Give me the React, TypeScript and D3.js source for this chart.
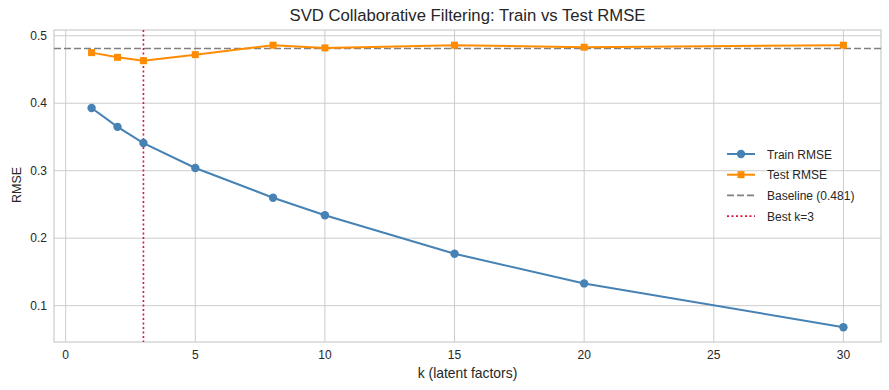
import * as d3 from 'd3';
import React, { useRef, useEffect } from 'react';

const kValues = [1, 2, 3, 5, 8, 10, 15, 20, 30];
const trainRmse = [0.393, 0.365, 0.341, 0.304, 0.260, 0.234, 0.177, 0.133, 0.068];
const testRmse = [0.475, 0.468, 0.463, 0.472, 0.486, 0.482, 0.486, 0.483, 0.486];
const baseline = 0.481;
const bestK = 3;
const xTicks = [0, 5, 10, 15, 20, 25, 30];
const yTicks = [0.1, 0.2, 0.3, 0.4, 0.5];
const legendLabels = ['Train RMSE', 'Test RMSE', 'Baseline (0.481)', 'Best k=3'];

function RmseChart({ width, height }: { width: number; height: number }) {
    const ref = useRef<SVGSVGElement>(null);

    useEffect(() => {
        const svg = d3.select(ref.current);
        svg.selectAll('*').remove();
        draw(svg);
    }, []);

    const draw = (svg: any) => {
        const margin = { top: 30, right: 8, bottom: 48, left: 54 };
        const w = width - margin.left - margin.right;
        const h = height - margin.top - margin.bottom;
        const font = 'Liberation Sans, Arial, sans-serif';
        const textColor = '#262626';

        const x = d3.scaleLinear().domain([-0.45, 31.45]).range([0, w]);
        const y = d3.scaleLinear().domain([0.0462, 0.5085]).range([h, 0]);

        svg.append('rect').attr('width', width).attr('height', height).attr('fill', 'white');

        svg.append('text')
            .attr('x', margin.left + w / 2)
            .attr('y', 20.5)
            .attr('text-anchor', 'middle')
            .attr('font-family', font)
            .attr('font-size', '16.7px')
            .attr('fill', textColor)
            .text('SVD Collaborative Filtering: Train vs Test RMSE');

        const g = svg.append('g').attr('transform', `translate(${margin.left},${margin.top})`);

        // grid
        g.selectAll('.vgrid').data(xTicks).enter().append('line')
            .attr('x1', (d: number) => x(d)).attr('x2', (d: number) => x(d))
            .attr('y1', 0).attr('y2', h)
            .attr('stroke', '#cccccc').attr('stroke-width', 1);
        g.selectAll('.hgrid').data(yTicks).enter().append('line')
            .attr('y1', (d: number) => y(d)).attr('y2', (d: number) => y(d))
            .attr('x1', 0).attr('x2', w)
            .attr('stroke', '#cccccc').attr('stroke-width', 1);

        // spines
        g.append('rect')
            .attr('width', w).attr('height', h)
            .attr('fill', 'none').attr('stroke', '#cccccc').attr('stroke-width', 1.2);

        // tick labels
        g.selectAll('.xt').data(xTicks).enter().append('text')
            .attr('x', (d: number) => x(d)).attr('y', h + 17)
            .attr('text-anchor', 'middle')
            .attr('font-family', font).attr('font-size', '12px').attr('fill', textColor)
            .text((d: number) => d3.format('d')(d));
        g.selectAll('.yt').data(yTicks).enter().append('text')
            .attr('x', -7).attr('y', (d: number) => y(d) + 4)
            .attr('text-anchor', 'end')
            .attr('font-family', font).attr('font-size', '12px').attr('fill', textColor)
            .text((d: number) => d3.format('.1f')(d));

        // axis labels
        g.append('text')
            .attr('x', w / 2).attr('y', h + 36)
            .attr('text-anchor', 'middle')
            .attr('font-family', font).attr('font-size', '13.9px').attr('fill', textColor)
            .text('k (latent factors)');
        g.append('text')
            .attr('transform', `translate(${21 - margin.left},${h / 2 - 1}) rotate(-90)`)
            .attr('text-anchor', 'middle')
            .attr('font-family', font).attr('font-size', '12.5px').attr('fill', textColor)
            .text('RMSE');

        // reference lines
        g.append('line')
            .attr('x1', 0).attr('x2', w)
            .attr('y1', y(baseline)).attr('y2', y(baseline))
            .attr('stroke', '#808080').attr('stroke-width', 1.6)
            .attr('stroke-dasharray', '7,3');
        g.append('line')
            .attr('x1', x(bestK)).attr('x2', x(bestK))
            .attr('y1', 0).attr('y2', h)
            .attr('stroke', '#dc143c').attr('stroke-width', 1.6)
            .attr('stroke-dasharray', '2,2.5');

        const line = d3.line<number>()
            .x((d, i) => x(kValues[i]))
            .y(d => y(d));

        g.append('path').datum(trainRmse)
            .attr('d', line).attr('fill', 'none')
            .attr('stroke', '#4682b4').attr('stroke-width', 2);
        g.selectAll('.trainpt').data(trainRmse).enter().append('circle')
            .attr('cx', (d: number, i: number) => x(kValues[i]))
            .attr('cy', (d: number) => y(d))
            .attr('r', 4.2).attr('fill', '#4682b4');

        g.append('path').datum(testRmse)
            .attr('d', line).attr('fill', 'none')
            .attr('stroke', '#ff8c00').attr('stroke-width', 2);
        g.selectAll('.testpt').data(testRmse).enter().append('rect')
            .attr('x', (d: number, i: number) => x(kValues[i]) - 3.5)
            .attr('y', (d: number) => y(d) - 3.5)
            .attr('width', 7).attr('height', 7).attr('fill', '#ff8c00');

        // legend
        const lg = svg.append('g').attr('transform', 'translate(727,154)');
        const styles = [
            { color: '#4682b4', dash: null, marker: 'circle' },
            { color: '#ff8c00', dash: null, marker: 'square' },
            { color: '#808080', dash: '7,3', marker: null },
            { color: '#dc143c', dash: '2,2.5', marker: null },
        ];
        legendLabels.forEach((label, i) => {
            const row = lg.append('g').attr('transform', `translate(0,${i * 20.7})`);
            const s = styles[i];
            row.append('line')
                .attr('x1', 0).attr('x2', 28).attr('y1', 0).attr('y2', 0)
                .attr('stroke', s.color).attr('stroke-width', i < 2 ? 2 : 1.6)
                .attr('stroke-dasharray', s.dash);
            if (s.marker === 'circle') {
                row.append('circle').attr('cx', 14).attr('cy', 0).attr('r', 4.2).attr('fill', s.color);
            } else if (s.marker === 'square') {
                row.append('rect').attr('x', 10.5).attr('y', -3.5).attr('width', 7).attr('height', 7).attr('fill', s.color);
            }
            row.append('text')
                .attr('x', 40).attr('y', 4.5)
                .attr('font-family', font).attr('font-size', '12px').attr('fill', textColor)
                .text(label);
        });
    };

    return <svg ref={ref} width={width} height={height} style={{ display: 'block' }}></svg>;
}

export default function App() {
    return (
        <div style={{ position: 'absolute', left: 0, top: 0 }}>
            <RmseChart width={889} height={390} />
        </div>
    );
}
